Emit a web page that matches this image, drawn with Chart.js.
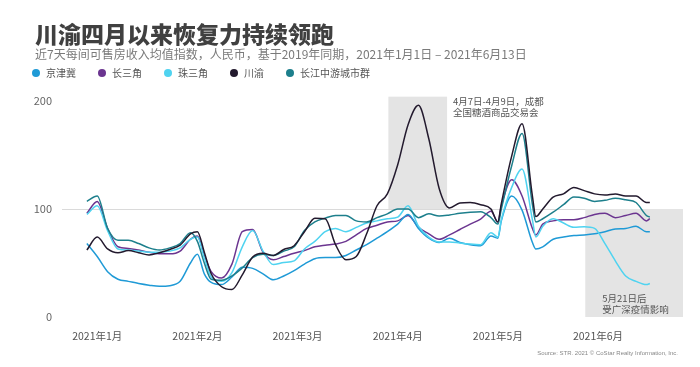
<!DOCTYPE html>
<html>
<head>
<meta charset="utf-8">
<script src="https://cdn.jsdelivr.net/npm/chart.js@4.4.0/dist/chart.umd.min.js"></script>
<style>
  body { margin: 0; background: #fff; font-family: "Noto Sans CJK SC", sans-serif; }
  #wrap { position: relative; width: 700px; height: 367px; }
  #chart { position: absolute; left: 0; top: 0; }
  .title { position: absolute; left: 35px; top: 19px; font-size: 23px; font-weight: 900; color: #404040; line-height: 28px; white-space: nowrap; }
  .sub { position: absolute; left: 35px; top: 46px; font-size: 12px; color: #7a7a7a; line-height: 16px; white-space: nowrap; }
  .legend { position: absolute; left: 32px; top: 66px; display: flex; font-size: 10px; color: #555; line-height: 14px; }
  .legend .item { display: flex; align-items: center; margin-right: 22px; }
  .legend i { display: inline-block; width: 8px; height: 8px; border-radius: 50%; margin-right: 6px; }
  .source { position: absolute; right: 22px; top: 350px; font-size: 6px; color: #888; font-family: "Liberation Sans Narrow", "Liberation Sans", sans-serif; }
</style>
</head>
<body>
<div id="wrap">
  <canvas id="chart" width="700" height="367"></canvas>
  <div class="title">川渝四月以来恢复力持续领跑</div>
  <div class="sub">近7天每间可售房收入均值指数，人民币，基于2019年同期，2021年1月1日 – 2021年6月13日</div>
  <div class="legend" id="legend"></div>
  <div class="source">Source: STR. 2021 © CoStar Realty Information, Inc.</div>
</div>
<script>
// day index from 2021-01-01
var days = [0, 3, 6, 9, 12, 15, 18, 21, 24, 27, 30, 32, 34, 36, 39, 42, 45, 48, 51, 54, 57, 60, 63, 66, 69, 72, 75, 78, 81, 84, 87, 90, 93, 96, 99, 102, 105, 108, 111, 114, 117, 119, 120, 123, 126, 129, 130, 132, 135, 138, 141, 144, 147, 150, 153, 156, 159, 162, 163];

var jingjinji = [68, 56, 42, 35, 33, 31, 29.5, 28.5, 29, 33, 50, 58, 40, 32, 30, 37, 46, 45, 40, 34.5, 38, 43, 49, 54, 55, 55, 57, 62, 67, 73, 79, 86, 95, 82, 73, 69, 73, 69, 67, 66, 75, 73, 89, 112, 99, 69, 63, 65, 72, 74, 75.5, 76, 77, 79, 81.5, 82, 84, 79, 79];
var changsanjiao = [96, 107, 82, 65, 63.5, 62, 60, 58.5, 58.5, 61, 72, 75, 57, 42, 36, 49, 79, 81, 60, 53, 56, 59, 61.5, 65, 66.5, 67.5, 70, 76, 82, 85, 88, 89, 94, 83, 77, 72, 76, 81, 86, 90.7, 98, 88, 103, 127, 112, 82, 76, 86, 89, 90, 90, 92, 95, 96, 92, 94, 96, 89, 91];
var zhusanjiao = [95, 103, 80, 63, 62, 61, 60, 60, 61, 64, 72, 74, 55, 37, 33, 41, 65, 80, 61, 48.5, 50.5, 52, 63, 70, 79, 82, 79, 83, 87, 89, 91, 92.5, 103, 84, 74, 69.5, 69.5, 68.5, 67.5, 67, 78, 74, 90, 120, 137, 90, 74, 84, 91, 87, 83, 83.5, 82, 68, 52, 38, 33, 30, 31];
var chuanyu = [62, 74, 63, 59.5, 61.5, 59.5, 57.5, 59.5, 62.5, 66.5, 77, 79, 60, 40, 28, 25.5, 39, 55.5, 59, 57, 62.5, 66, 79, 91.5, 91, 67, 53, 56, 77, 103, 114, 141, 178, 196, 165, 119, 101, 105.5, 106, 104, 100, 88, 105, 149, 179, 112, 93, 100, 111, 114, 120, 117, 114, 113, 114, 112, 112, 106, 106];
var changjiang = [107, 112, 82, 71, 71, 68, 64, 62, 64, 68, 78, 70, 50, 35, 34, 38, 45.5, 55, 58, 57, 61, 65, 80, 88, 91.5, 94, 94, 89, 88, 92, 95.5, 100, 100, 92, 95.5, 93.5, 94.5, 96, 97, 97.5, 92, 86, 100, 140, 170, 104, 88, 91, 97, 104, 111, 110, 107, 108, 110, 108.5, 106, 94, 92.5];

var seriesNames = ["京津冀", "长三角", "珠三角", "川渝", "长江中游城市群"];
var seriesColors = ["#1f9ad6", "#6b3590", "#4fd3f0", "#231a2e", "#1d7f8c"];

var monthTicks = [3, 32, 61, 90, 119, 148];
var monthLabels = ["2021年1月", "2021年2月", "2021年3月", "2021年4月", "2021年5月", "2021年6月"];

// shaded periods: day range and value range
var shadeBoxes = [
  { from: 87.3, to: 104.3, low: 100, high: 204 },
  { from: 144.3, to: 172.6, low: 0, high: 100 }
];
var notes = [
  { day: 106, value: 200, lines: ["4月7日-4月9日，成都", "全国糖酒商品交易会"] },
  { day: 149.2, value: 17.5, lines: ["5月21日后", "受广深疫情影响"] }
];

// html legend
var legendEl = document.getElementById("legend");
seriesNames.forEach(function (name, i) {
  var item = document.createElement("span");
  item.className = "item";
  item.innerHTML = '<i style="background:' + seriesColors[i] + '"></i>' + name;
  legendEl.appendChild(item);
});

function toPoints(values) {
  return values.map(function (v, i) { return { x: days[i], y: v }; });
}

var allSeries = [jingjinji, changsanjiao, zhusanjiao, chuanyu, changjiang];
var drawOrder = [3, 4, 2, 0, 1];

var datasets = allSeries.map(function (values, i) {
  return {
    label: seriesNames[i],
    data: toPoints(values),
    borderColor: seriesColors[i],
    backgroundColor: seriesColors[i],
    borderWidth: 1.5,
    pointRadius: 0,
    fill: false,
    cubicInterpolationMode: "monotone",
    order: drawOrder[i]
  };
});

var shadePlugin = {
  id: "shade",
  beforeDatasetsDraw: function (chart) {
    var ctx = chart.ctx, x = chart.scales.x, y = chart.scales.y;
    ctx.save();
    ctx.fillStyle = "#e4e4e4";
    shadeBoxes.forEach(function (b) {
      var left = x.getPixelForValue(b.from), right = x.getPixelForValue(b.to);
      var top = y.getPixelForValue(b.high), bottom = y.getPixelForValue(b.low);
      ctx.fillRect(left, top, right - left, bottom - top);
    });
    ctx.restore();
  },
  afterDatasetsDraw: function (chart) {
    var ctx = chart.ctx, x = chart.scales.x, y = chart.scales.y;
    ctx.save();
    ctx.font = '9.5px "Noto Sans CJK SC"';
    ctx.fillStyle = "#555";
    ctx.textAlign = "left";
    ctx.textBaseline = "middle";
    notes.forEach(function (n) {
      var px = x.getPixelForValue(n.day), py = y.getPixelForValue(n.value);
      n.lines.forEach(function (line, k) {
        ctx.fillText(line, px, py + k * 11);
      });
    });
    ctx.restore();
  }
};

var ctx = document.getElementById("chart");
var chart = new Chart(ctx, {
  type: "line",
  data: { datasets: datasets },
  options: {
    responsive: false,
    animation: false,
    layout: { padding: { top: 101, left: 20, right: 17, bottom: 26 } },
    plugins: {
      legend: { display: false },
      tooltip: { enabled: false }
    },
    scales: {
      x: {
        type: "linear",
        min: -7.2,
        max: 172.6,
        grid: { display: false },
        border: { display: false },
        afterBuildTicks: function (scale) {
          scale.ticks = monthTicks.map(function (v) { return { value: v }; });
        },
        afterFit: function (scale) { scale.height = 24; },
        ticks: {
          autoSkip: false,
          maxRotation: 0,
          padding: 5,
          color: "#555",
          font: { family: "Noto Sans CJK SC", size: 10.5 },
          callback: function (value) {
            var i = monthTicks.indexOf(value);
            return i >= 0 ? monthLabels[i] : "";
          }
        }
      },
      y: {
        min: 0,
        max: 200,
        border: { display: false },
        grid: {
          drawTicks: false,
          color: function (c) { return c.tick && c.tick.value === 100 ? "#dadada" : "rgba(0,0,0,0)"; }
        },
        afterFit: function (scale) { scale.width = 42; },
        ticks: {
          stepSize: 100,
          padding: 10,
          color: "#666",
          font: { family: "Noto Sans CJK SC", size: 11 }
        }
      }
    }
  },
  plugins: [shadePlugin]
});
</script>
</body>
</html>
